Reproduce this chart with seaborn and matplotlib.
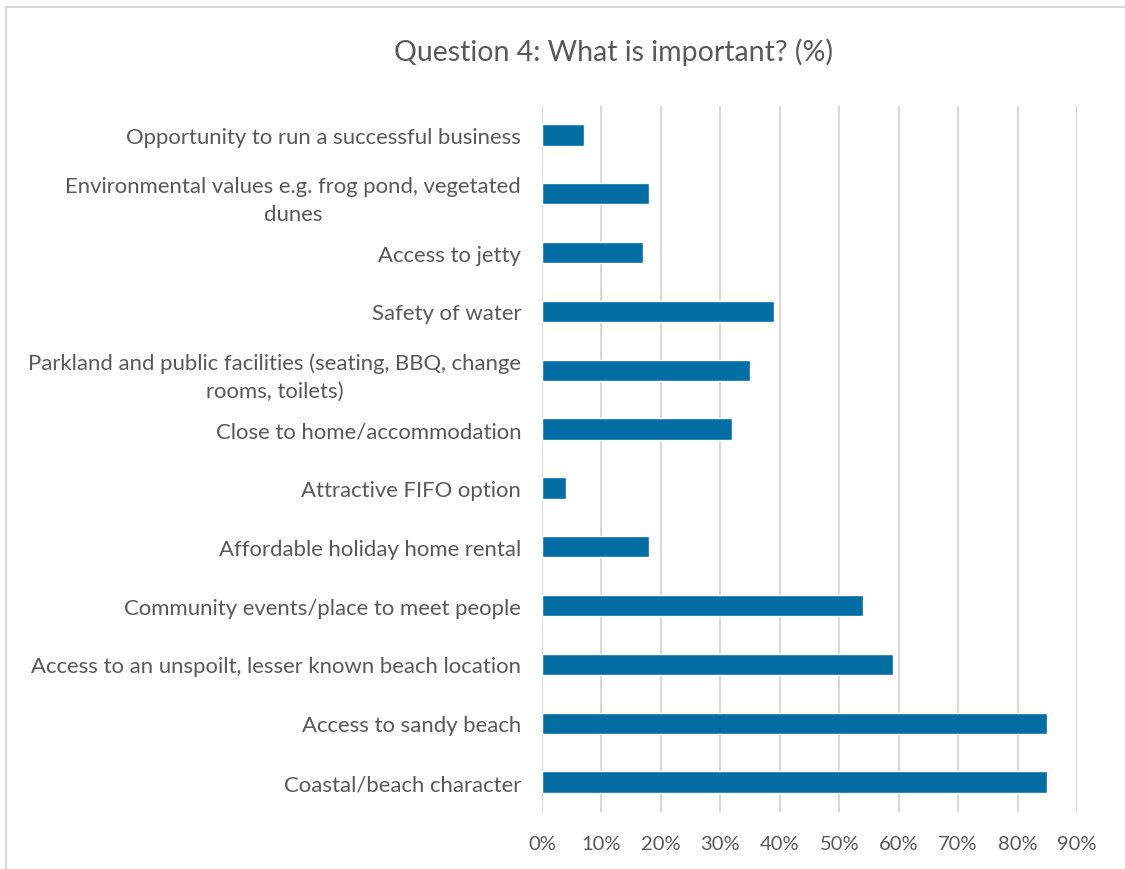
import matplotlib
matplotlib.use("Agg")
import matplotlib.pyplot as plt
import matplotlib.lines as mlines
import seaborn as sns
import pandas as pd

categories = [
    "Opportunity to run a successful business",
    "Environmental values e.g. frog pond, vegetated\ndunes",
    "Access to jetty",
    "Safety of water",
    "Parkland and public facilities (seating, BBQ, change\nrooms, toilets)",
    "Close to home/accommodation",
    "Attractive FIFO option",
    "Affordable holiday home rental",
    "Community events/place to meet people",
    "Access to an unspoilt, lesser known beach location",
    "Access to sandy beach",
    "Coastal/beach character",
]
values = [0.07, 0.18, 0.17, 0.39, 0.35, 0.32, 0.04, 0.18, 0.54, 0.59, 0.85, 0.85]
tick_values = [0.0, 0.1, 0.2, 0.3, 0.4, 0.5, 0.6, 0.7, 0.8, 0.9]
tick_labels = ["0%", "10%", "20%", "30%", "40%", "50%", "60%", "70%", "80%", "90%"]
title = "Question 4: What is important? (%)"

sns.set_theme(style="white")
plt.rcParams["font.family"] = ["Lato", "DejaVu Sans"]

text_color = "#595959"
bar_color = "#046EA4"
grid_color = "#D9D9D9"

df = pd.DataFrame({"category": categories, "value": values})

W, H = 1125, 870
fig = plt.figure(figsize=(W / 100, H / 100), dpi=100)
ax = fig.add_axes([542 / W, 1 - 812.5 / H, (1077 - 542) / W, (812.5 - 106.5) / H])

sns.barplot(data=df, x="value", y="category", orient="h", color=bar_color,
            width=0.36, saturation=1, ax=ax, zorder=3)

ax.set_xlim(0, 0.9)
ax.set_xticks(tick_values)
ax.set_xticklabels(tick_labels, fontsize=14.5, color=text_color)
ax.tick_params(axis="x", length=0, pad=17)
ax.tick_params(axis="y", length=0, pad=15, labelsize=15.9, labelcolor=text_color)
for lbl in ax.get_yticklabels():
    lbl.set_multialignment("center")
    lbl.set_linespacing(1.5)

ax.set_xlabel("")
ax.set_ylabel("")
ax.grid(axis="x", color=grid_color, linewidth=1.5, zorder=0)
ax.grid(axis="y", visible=False)
for s in ax.spines.values():
    s.set_visible(False)

fig.text(614 / W, 1 - 52 / H, title, ha="center", va="center",
         fontsize=20.5, color=text_color)

# chart frame: top and left edges
frame_kw = dict(transform=fig.transFigure, color="#D9D9D9", linewidth=1.5)
fig.lines.append(mlines.Line2D([6 / W, 1.0], [1 - 8 / H, 1 - 8 / H], **frame_kw))
fig.lines.append(mlines.Line2D([6 / W, 6 / W], [0.0, 1 - 8 / H], **frame_kw))

fig.savefig("out.png", dpi=100, facecolor="white")
